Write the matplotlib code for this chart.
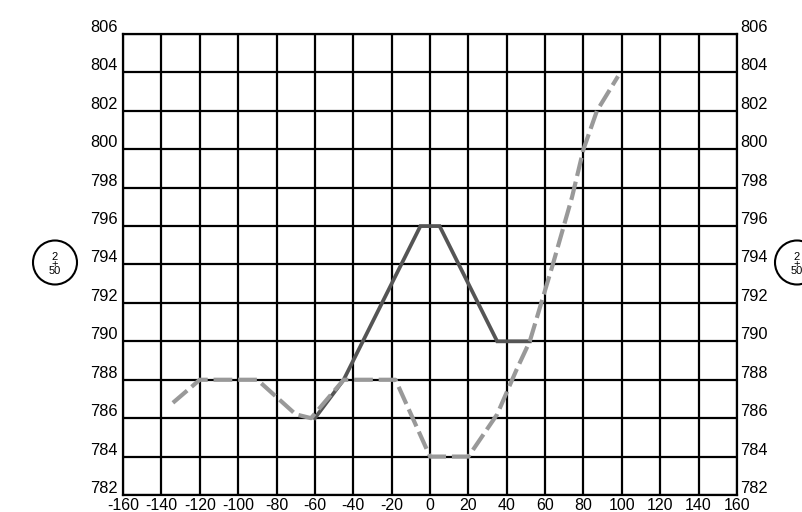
#Road cross-section profile

import matplotlib.pyplot as plt
from matplotlib.patches import Circle
from matplotlib.transforms import offset_copy

plt.rcParams['font.family'] = ['Liberation Sans', 'DejaVu Sans']
plt.rcParams['axes.unicode_minus'] = False

# design section (solid)
design_x = [-60, -45, -5, 5, 35, 52]
design_y = [786, 788, 796, 796, 790, 790]

# ground line (dashed)
ground_x = [-134, -120, -90, -80, -70, -62, -45, -18, 0, 20, 35, 45, 52, 58, 64, 74, 80, 87, 98]
ground_y = [786.8, 788, 788, 787.1, 786.2, 786, 788, 788, 784, 784, 786.2, 788.5, 790, 792, 794, 797.5, 800, 802, 803.8]

x_ticks = list(range(-160, 161, 20))
y_ticks = list(range(782, 807, 2))
station = ['2', '+', '50']

fig = plt.figure(figsize=(8.03, 5.12), dpi=100)
ax = fig.add_axes([0.1532, 0.0332, 0.7646, 0.9004])

ax.plot(design_x, design_y, color='#555555', lw=2.7, solid_joinstyle='miter', zorder=3)
ax.plot(ground_x, ground_y, color='#999999', lw=3, linestyle=(0, (4.5, 1.4)), zorder=4)

ax.set_xlim(-160, 160)
ax.set_ylim(782, 806)
ax.set_xticks(x_ticks)
ax.set_yticks(y_ticks)
ax.set_xticklabels([str(v) for v in x_ticks], fontsize=11.5)
ax.set_yticklabels([])
ax.tick_params(length=0, pad=2)
ax.grid(True, color='black', lw=1.6)
for s in ax.spines.values():
    s.set_linewidth(1.6)

# y labels on both sides, sitting just above the grid line
ytr = offset_copy(ax.get_yaxis_transform(), fig=fig, x=0, y=2, units='dots')
for v in y_ticks:
    ax.text(-0.008, v, str(v), transform=ytr, ha='right', va='baseline', fontsize=11.8)
    ax.text(1.005, v, str(v), transform=ytr, ha='left', va='baseline', fontsize=11.8)

# station markers (positions in inches from lower left)
for cx in [0.55, 7.97]:
    fig.add_artist(Circle((cx, 2.495), 0.22, transform=fig.dpi_scale_trans, fill=False, lw=1.5, color='black'))
    for dy, s in zip([0.07, 0.0, -0.07], station):
        fig.text(cx, 2.485 + dy, s, transform=fig.dpi_scale_trans, ha='center', va='center', fontsize=8)

fig.savefig('out.png', dpi=100)
